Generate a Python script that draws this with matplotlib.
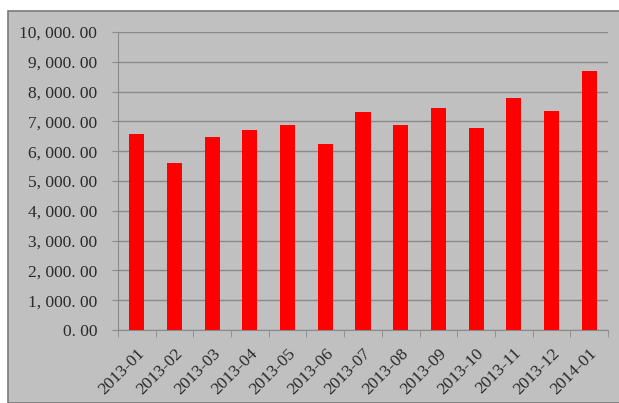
import numpy as np
import matplotlib.pyplot as plt
from matplotlib.patches import Rectangle

months = ["2013-01", "2013-02", "2013-03", "2013-04", "2013-05", "2013-06", "2013-07",
          "2013-08", "2013-09", "2013-10", "2013-11", "2013-12", "2014-01"]
values = [6570, 5620, 6460, 6710, 6870, 6230, 7310, 6880, 7440, 6790, 7780, 7340, 8690]
yticks = [0, 1000, 2000, 3000, 4000, 5000, 6000, 7000, 8000, 9000, 10000]

bg = "#c0c0c0"
grid = "#8a8a8a"
plt.rcParams['font.family'] = ['Liberation Serif', 'DejaVu Serif']

fig = plt.figure(figsize=(6.19, 4.03), dpi=100)
fig.patch.set_facecolor("white")
# outer chart frame
fig.patches.append(Rectangle((8 / 619, 0), 1, 1 - 11 / 403, transform=fig.transFigure,
                             facecolor=bg, edgecolor="#7a7a7a", linewidth=1.2, zorder=-1))

ax = fig.add_axes([118 / 619, 73 / 403, 490 / 619, 298 / 403])
ax.set_zorder(1)
ax.set_facecolor(bg)
x = np.arange(len(months))
ax.bar(x, values, width=0.4, color="#ff0000", zorder=3)

ax.set_xlim(-0.5, len(months) - 0.5)
ax.set_ylim(0, 10000)
ax.set_yticks(yticks)
ax.set_yticklabels(["{:,.2f}".format(v).replace(",", ", ").replace(".", ". ") for v in yticks],
                   fontsize=12.5, color="#2a2a2a")
ax.yaxis.grid(True, color=grid, linewidth=1, zorder=1)
ax.tick_params(axis='y', length=4, color=grid, pad=11)

ax.set_xticks(x)
ax.set_xticklabels(months, rotation=45, ha='right', rotation_mode='anchor',
                   fontsize=12.5, color="#2a2a2a")
ax.tick_params(axis='x', length=0, pad=11)
ax.set_xticks(np.arange(-0.5, len(months), 1), minor=True)
ax.tick_params(axis='x', which='minor', length=5, color=grid)

for s in ["top", "right"]:
    ax.spines[s].set_visible(False)
ax.spines["left"].set_color(grid)
ax.spines["bottom"].set_color(grid)

fig.savefig("out.png", dpi=100, facecolor=fig.get_facecolor())
